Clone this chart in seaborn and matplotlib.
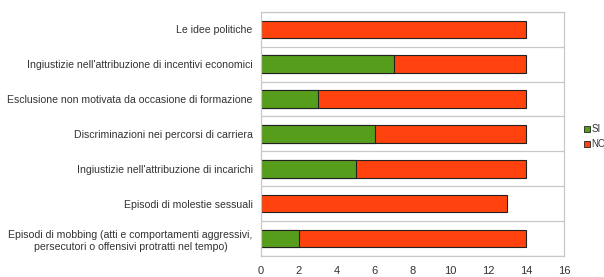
import seaborn as sns
import pandas as pd
import numpy as np
import matplotlib.pyplot as plt
from matplotlib.patches import Patch

## Data

categories = [
    "Le idee politiche",
    "Ingiustizie nell'attribuzione di incentivi economici",
    "Esclusione non motivata da occasione di formazione",
    "Discriminazioni nei percorsi di carriera",
    "Ingiustizie nell'attribuzione di incarichi",
    "Episodi di molestie sessuali",
    "Episodi di mobbing (atti e comportamenti aggressivi,\npersecutori o offensivi protratti nel tempo)",
]
si_values = [0, 7, 3, 6, 5, 0, 2]
no_values = [14, 7, 11, 8, 9, 13, 12]
x_ticks = [0, 2, 4, 6, 8, 10, 12, 14, 16]

GREEN = "#579d1c"
RED = "#ff420e"
TEXT = "#333333"

sns.set_style("white")
plt.rcParams["font.family"] = ["Liberation Sans", "DejaVu Sans"]

df = pd.DataFrame({"categoria": categories, "SI": si_values, "NO": no_values})
df["totale"] = df["SI"] + df["NO"]

fig = plt.figure(figsize=(6.04, 2.77), dpi=100)
ax = fig.add_axes([0.432, 0.076, 0.502, 0.881])

# stacked bars: total first (red), then SI on top (green)
sns.barplot(data=df, y="categoria", x="totale", color=RED, orient="h",
            width=0.5, edgecolor="#222222", linewidth=0.8, saturation=1, ax=ax)
sns.barplot(data=df, y="categoria", x="SI", color=GREEN, orient="h",
            width=0.5, edgecolor="#222222", linewidth=0.8, saturation=1, ax=ax)

ax.set_xlim(0, 16)
ax.set_ylim(len(categories) - 0.5, -0.5)
ax.set_xticks(x_ticks)
ax.set_xlabel("")
ax.set_ylabel("")

# grid and ticks at the category boundaries
bounds = np.arange(-0.5, len(categories), 1.0)
ax.set_yticks(bounds, minor=True)
ax.yaxis.grid(True, which="minor", color="#c8c8c8", linewidth=0.9)
ax.set_axisbelow(True)
ax.tick_params(axis="y", which="major", length=0, labelsize=7.6, pad=6,
               labelcolor=TEXT)
ax.tick_params(axis="y", which="minor", length=4, color="#b0b0b0", width=0.9)
ax.tick_params(axis="x", which="major", length=4, color="#b0b0b0", width=0.9,
               labelsize=8, pad=3, labelcolor=TEXT)
for lbl in ax.get_yticklabels():
    lbl.set_multialignment("center")
    lbl.set_linespacing(1.3)

for side in ["left", "right", "top", "bottom"]:
    ax.spines[side].set_visible(True)
    ax.spines[side].set_color("#c8c8c8")
    ax.spines[side].set_linewidth(0.9)

# legend sits at the right edge, "NO" is clipped like in the original
handles = [
    Patch(facecolor=GREEN, edgecolor="#222222", linewidth=0.6, label="SI"),
    Patch(facecolor=RED, edgecolor="#222222", linewidth=0.6, label="NO"),
]
leg = fig.legend(handles=handles, loc="upper left", bbox_to_anchor=(0.961, 0.565),
                 frameon=False, fontsize=7, handlelength=0.55, handleheight=0.55,
                 handletextpad=0.15, labelspacing=0.5, borderaxespad=0)
for t in leg.get_texts():
    t.set_color(TEXT)

fig.savefig("out.png", dpi=100)
